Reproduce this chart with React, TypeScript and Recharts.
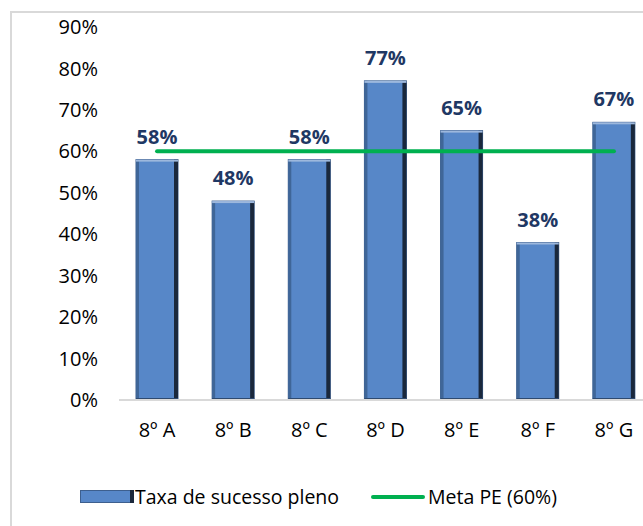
import React from 'react'
import { ComposedChart, Bar, Line, XAxis, YAxis, LabelList } from 'recharts'

const turmas = ['8º A', '8º B', '8º C', '8º D', '8º E', '8º F', '8º G']
const taxaSucesso = [58, 48, 58, 77, 65, 38, 67]
const metaPE = [60, 60, 60, 60, 60, 60, 60]
const yTicks = [0, 10, 20, 30, 40, 50, 60, 70, 80, 90]

const data = turmas.map((name, i) => ({ name, taxa: taxaSucesso[i], meta: metaPE[i] }))

const FONT = '"Open Sans", sans-serif'
const BAR_BLUE = '#5787C8'
const GREEN = '#00B050'

function BevelBar(props: any) {
  const { x, y, width, height } = props
  if (!height || height <= 0) return null
  return (
    <g>
      <rect x={x} y={y} width={width} height={height} fill={BAR_BLUE} stroke="#3D5F8E" strokeWidth={1} />
      <rect x={x} y={y} width={3} height={height} fill="#3F6698" />
      <rect x={x + width - 4} y={y} width={4} height={height} fill="#1A283C" />
      <rect x={x} y={y} width={width} height={2} fill="#9DB8DD" />
      <rect x={x} y={y + height - 2} width={width} height={2} fill="#2E4A70" />
    </g>
  )
}

function LegendBox() {
  return (
    <div
      style={{
        position: 'absolute',
        left: 80,
        top: 483,
        display: 'flex',
        alignItems: 'center',
        fontFamily: FONT,
        fontSize: 19.5,
        color: '#000',
        whiteSpace: 'nowrap',
      }}
    >
      <svg width={54} height={14} style={{ marginRight: 1 }}>
        <rect x={0.5} y={0.5} width={53} height={12} fill={BAR_BLUE} stroke="#3D5F8E" />
        <rect x={50} y={0} width={4} height={13} fill="#1A283C" />
      </svg>
      <span>Taxa de sucesso pleno</span>
      <svg width={56} height={14} style={{ marginLeft: 32, marginRight: 1 }}>
        <line x1={2} y1={7} x2={52} y2={7} stroke={GREEN} strokeWidth={4} strokeLinecap="round" />
      </svg>
      <span>Meta PE (60%)</span>
    </div>
  )
}

export default function App() {
  return (
    <div style={{ position: 'absolute', left: 0, top: 0, width: 643, height: 526, overflow: 'hidden', background: '#fff' }}>
      <div style={{ position: 'absolute', left: 10, top: 11, width: 700, height: 600, border: '2px solid #d9d9d9' }} />
      <div style={{ position: 'absolute', left: 0, top: 0 }}>
        <ComposedChart
          width={660}
          height={526}
          data={data}
          margin={{ top: 27, right: 8, left: 0, bottom: 0 }}
        >
          <XAxis
            dataKey="name"
            height={126}
            axisLine={{ stroke: '#d9d9d9', strokeWidth: 2 }}
            tickLine={false}
            tickSize={0}
            tickMargin={23}
            tick={{ fill: '#000', fontSize: 20, fontFamily: FONT }}
            interval={0}
          />
          <YAxis
            width={119}
            domain={[0, 90]}
            ticks={yTicks}
            interval={0}
            tickFormatter={(v: number) => `${v}%`}
            axisLine={false}
            tickLine={false}
            tickSize={0}
            tickMargin={21}
            tick={{ fill: '#000', fontSize: 20, fontFamily: FONT }}
          />
          <Bar dataKey="taxa" name="Taxa de sucesso pleno" barSize={42} shape={BevelBar} isAnimationActive={false}>
            <LabelList
              dataKey="taxa"
              position="top"
              offset={16}
              formatter={(v: any) => `${v}%`}
              style={{ fill: '#1F3864', fontSize: 20, fontWeight: 700, fontFamily: FONT }}
            />
          </Bar>
          <Line
            dataKey="meta"
            name="Meta PE (60%)"
            stroke={GREEN}
            strokeWidth={4}
            strokeLinecap="round"
            dot={false}
            activeDot={false}
            isAnimationActive={false}
          />
        </ComposedChart>
      </div>
      <LegendBox />
    </div>
  )
}
